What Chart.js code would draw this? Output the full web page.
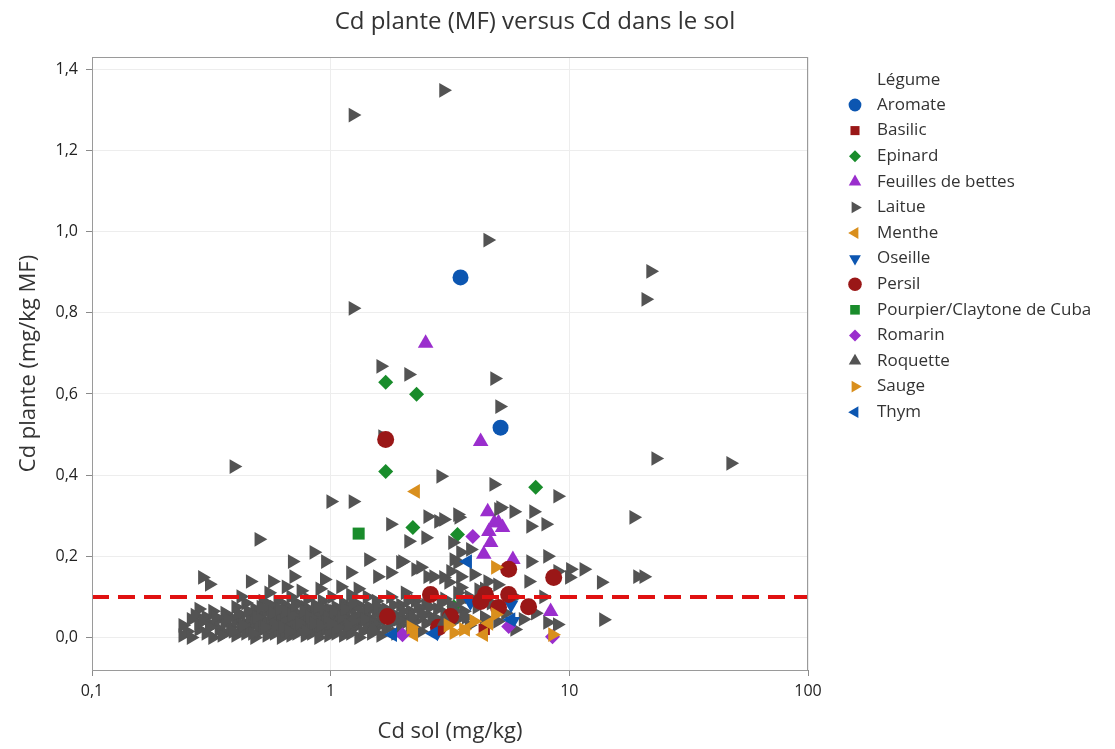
<!DOCTYPE html>
<html>
<head>
<meta charset="utf-8">
<title>Cd plante (MF) versus Cd dans le sol</title>
<script src="https://cdn.jsdelivr.net/npm/chart.js@4.4.0/dist/chart.umd.min.js"></script>
<style>
  html, body { margin: 0; padding: 0; background: #ffffff; }
  #wrap { width: 1115px; height: 749px; }
</style>
</head>
<body>
<div id="wrap"><canvas id="chart" width="1115" height="749"></canvas></div>
<script>
// axis ticks
const xTicks = [0.1, 1, 10, 100];
const xTickLabels = ['0,1', '1', '10', '100'];
const yTicks = [0, 0.2, 0.4, 0.6, 0.8, 1.0, 1.2, 1.4];
const yTickLabels = ['0,0', '0,2', '0,4', '0,6', '0,8', '1,0', '1,2', '1,4'];
const seuil = 0.1;

const legumes = ['Aromate', 'Basilic', 'Epinard', 'Feuilles de bettes', 'Laitue', 'Menthe', 'Oseille',
  'Persil', 'Pourpier/Claytone de Cuba', 'Romarin', 'Roquette', 'Sauge', 'Thym'];

// [Cd sol, Cd plante]
const aromate = [[3.5, 0.887], [5.15, 0.517]];
const basilic = [[4.4, 0.02]];
const epinard = [[1.70, 0.629], [2.29, 0.599], [1.70, 0.409], [7.23, 0.37], [2.21, 0.271], [3.4, 0.254], [3.28, 0.076]];
const feuilles = [[2.5, 0.725], [4.25, 0.483], [4.55, 0.31], [4.85, 0.283], [5.05, 0.283], [5.25, 0.271], [4.6, 0.261],
  [4.68, 0.234], [4.38, 0.205], [5.8, 0.192], [8.35, 0.064]];
const laitue = [
  [2.97, 1.348], [1.24, 1.287], [4.55, 0.979], [21.9, 0.902], [20.9, 0.833], [1.24, 0.811], [1.62, 0.668], [2.12, 0.648],
  [4.86, 0.638], [5.1, 0.569], [0.393, 0.421], [1.65, 0.495], [2.89, 0.397], [4.82, 0.377], [8.93, 0.348], [23.0, 0.441],
  [47.4, 0.429], [18.6, 0.296], [1.0, 0.335], [1.24, 0.335], [0.5, 0.242],
  [2.55, 0.298], [2.97, 0.291], [3.44, 0.296], [5.15, 0.32], [5.85, 0.31], [7.08, 0.31], [6.88, 0.274], [7.96, 0.279],
  [1.78, 0.279], [2.83, 0.286], [2.12, 0.237], [2.5, 0.246], [1.44, 0.192], [1.96, 0.185], [0.69, 0.187], [0.85, 0.21],
  [0.95, 0.187], [1.21, 0.16], [1.57, 0.15], [1.78, 0.16], [2.0, 0.187], [2.27, 0.168], [2.38, 0.173], [2.55, 0.15],
  [2.7, 0.15], [2.97, 0.148], [3.28, 0.192], [3.4, 0.185], [3.4, 0.303], [5.05, 0.316], [6.88, 0.187], [8.1, 0.2],
  [8.93, 0.163], [6.75, 0.138], [10.1, 0.168], [11.5, 0.168], [10.0, 0.148], [13.6, 0.136], [19.3, 0.15], [20.5, 0.15],
  [13.9, 0.044], [8.1, 0.037], [8.9, 0.032], [0.29, 0.148], [0.31, 0.131], [0.46, 0.138], [0.57, 0.138], [0.7, 0.15],
  [0.94, 0.143], [0.42, 0.101], [3.24, 0.234], [3.5, 0.21], [3.85, 0.217], [3.18, 0.163], [3.5, 0.15], [3.98, 0.155],
  [4.55, 0.138], [4.17, 0.118], [3.5, 0.123], [3.12, 0.136],
  [0.55, 0.11], [0.75, 0.115], [0.9, 0.12], [1.1, 0.125], [1.3, 0.12], [0.65, 0.125],
  [0.24, 0.03], [0.24, 0.005], [0.25, 0.015], [0.26, 0.045], [0.26, 0.0], [0.28, 0.07], [0.28, 0.02], [0.28, 0.035],
  [0.30, 0.01], [0.30, 0.05], [0.32, 0.03], [0.32, 0.065], [0.32, 0.0], [0.34, 0.02], [0.34, 0.045], [0.36, 0.01],
  [0.36, 0.035], [0.36, 0.06], [0.38, 0.025], [0.38, 0.05], [0.40, 0.005], [0.40, 0.04], [0.40, 0.075], [0.42, 0.02],
  [0.42, 0.055], [0.44, 0.01], [0.44, 0.035], [0.44, 0.085], [0.46, 0.025], [0.46, 0.05], [0.48, 0.0], [0.48, 0.04],
  [0.48, 0.07], [0.50, 0.015], [0.50, 0.03], [0.50, 0.06], [0.52, 0.02], [0.52, 0.045], [0.52, 0.09], [0.54, 0.005],
  [0.54, 0.035], [0.54, 0.065], [0.56, 0.025], [0.56, 0.05], [0.58, 0.01], [0.58, 0.04], [0.58, 0.075], [0.60, 0.02],
  [0.60, 0.055], [0.60, 0.09], [0.62, 0.0], [0.62, 0.035], [0.62, 0.06], [0.64, 0.015], [0.64, 0.045], [0.64, 0.08],
  [0.66, 0.025], [0.66, 0.05], [0.68, 0.005], [0.68, 0.035], [0.68, 0.07], [0.68, 0.1], [0.70, 0.02], [0.70, 0.045],
  [0.72, 0.01], [0.72, 0.03], [0.72, 0.06], [0.72, 0.085], [0.75, 0.02], [0.75, 0.05], [0.78, 0.005], [0.78, 0.04],
  [0.78, 0.075], [0.80, 0.025], [0.80, 0.055], [0.80, 0.095], [0.83, 0.01], [0.83, 0.035], [0.83, 0.065], [0.86, 0.02],
  [0.86, 0.05], [0.86, 0.08], [0.89, 0.0], [0.89, 0.03], [0.89, 0.06], [0.92, 0.015], [0.92, 0.045], [0.92, 0.09],
  [0.95, 0.025], [0.95, 0.055], [0.98, 0.005], [0.98, 0.035], [0.98, 0.07], [1.01, 0.02], [1.01, 0.05], [1.01, 0.1],
  [1.05, 0.01], [1.05, 0.04], [1.05, 0.075], [1.09, 0.025], [1.09, 0.06], [1.13, 0.005], [1.13, 0.035], [1.13, 0.085],
  [1.17, 0.02], [1.17, 0.05], [1.21, 0.01], [1.21, 0.04], [1.21, 0.07], [1.21, 0.105], [1.26, 0.025], [1.26, 0.055],
  [1.31, 0.0], [1.31, 0.035], [1.31, 0.08], [1.36, 0.015], [1.36, 0.05], [1.42, 0.03], [1.42, 0.065], [1.42, 0.1],
  [1.48, 0.01], [1.48, 0.045], [1.55, 0.025], [1.55, 0.06], [1.55, 0.09], [1.62, 0.005], [1.62, 0.04], [1.70, 0.02],
  [1.70, 0.07], [1.78, 0.035], [1.78, 0.1], [1.87, 0.01], [1.87, 0.055], [1.96, 0.03], [1.96, 0.08], [2.05, 0.045],
  [2.05, 0.11], [2.15, 0.02], [2.15, 0.065], [2.26, 0.04], [2.26, 0.09], [2.38, 0.06], [2.38, 0.015], [2.5, 0.035],
  [2.5, 0.08], [2.65, 0.05], [2.65, 0.1], [2.8, 0.045], [2.8, 0.07], [3.0, 0.06], [3.0, 0.03], [3.0, 0.095],
  [3.2, 0.08], [3.4, 0.045], [3.4, 0.11], [3.6, 0.065], [3.8, 0.1], [3.8, 0.03], [4.1, 0.075], [4.4, 0.05],
  [4.4, 0.12], [4.7, 0.085], [5.0, 0.04], [5.0, 0.13], [5.4, 0.06], [5.9, 0.1], [5.9, 0.02], [6.4, 0.045],
  [7.2, 0.06], [7.8, 0.1],
  [0.27, 0.055], [0.29, 0.04], [0.31, 0.025], [0.33, 0.05], [0.35, 0.005], [0.37, 0.045], [0.39, 0.015], [0.41, 0.06],
  [0.43, 0.03], [0.45, 0.065], [0.47, 0.01], [0.49, 0.05], [0.51, 0.075], [0.53, 0.025], [0.55, 0.08], [0.57, 0.06],
  [0.59, 0.03], [0.61, 0.07], [0.63, 0.025], [0.65, 0.065], [0.67, 0.015], [0.69, 0.055], [0.71, 0.08], [0.74, 0.035],
  [0.77, 0.065], [0.79, 0.015], [0.82, 0.05], [0.85, 0.035], [0.88, 0.075], [0.91, 0.03], [0.94, 0.07], [0.97, 0.05],
  [1.0, 0.035], [1.03, 0.065], [1.07, 0.025], [1.11, 0.05], [1.15, 0.07], [1.19, 0.03], [1.24, 0.085], [1.28, 0.045],
  [1.34, 0.065], [1.39, 0.045], [1.45, 0.075], [1.51, 0.035], [1.58, 0.075], [1.66, 0.055], [1.74, 0.05], [1.83, 0.08],
  [1.92, 0.045], [2.0, 0.065], [2.1, 0.09], [2.2, 0.05], [2.32, 0.075], [2.45, 0.055], [2.6, 0.075], [2.75, 0.025],
  [2.9, 0.085], [3.1, 0.05], [3.3, 0.065], [3.5, 0.09], [3.7, 0.05]
];
const menthe = [[2.27, 0.36], [4.38, 0.007], [2.23, 0.007], [3.68, 0.02], [4.6, 0.035]];
const oseille = [[5.7, 0.081], [3.85, 0.086], [2.8, 0.012], [5.8, 0.04]];
const persil = [[1.70, 0.488], [5.57, 0.168], [8.6, 0.148], [2.62, 0.106], [4.45, 0.106], [5.57, 0.106], [5.05, 0.074],
  [6.75, 0.076], [3.18, 0.052], [1.73, 0.052], [4.25, 0.089], [2.83, 0.025]];
const pourpier = [[1.31, 0.256]];
const romarin = [[3.94, 0.249], [2.0, 0.007], [5.57, 0.027], [8.5, 0.002]];
const roquette = [[3.0, 0.04], [1.5, 0.02]];
const sauge = [[4.9, 0.173], [8.5, 0.007], [2.17, 0.025], [3.28, 0.012], [3.6, 0.02], [3.98, 0.04], [4.9, 0.057], [3.1, 0.03]];
const thym = [[3.75, 0.187], [1.82, 0.007], [5.7, 0.044], [2.7, 0.01]];

const series = [aromate, basilic, epinard, feuilles, laitue, menthe, oseille, persil, pourpier, romarin, roquette, sauge, thym];

// marker look per group (Minitab-like symbols)
const blue = '#0c56b1', red = '#9a1717', green = '#198c2b', purple = '#9a2ecd', grey = '#535353', orange = '#d98f1d';
const markers = [
  { color: blue, style: 'circle', rot: 0, r: 8 },
  { color: red, style: 'rect', rot: 0, r: 8 },
  { color: green, style: 'rectRot', rot: 0, r: 7.5 },
  { color: purple, style: 'triangle', rot: 0, r: 9 },
  { color: grey, style: 'triangle', rot: 90, r: 8.5 },
  { color: orange, style: 'triangle', rot: -90, r: 8.5 },
  { color: blue, style: 'triangle', rot: 180, r: 8.5 },
  { color: red, style: 'circle', rot: 0, r: 8.5 },
  { color: green, style: 'rect', rot: 0, r: 8.5 },
  { color: purple, style: 'rectRot', rot: 0, r: 7.5 },
  { color: grey, style: 'triangle', rot: 0, r: 9 },
  { color: orange, style: 'triangle', rot: 90, r: 8.5 },
  { color: blue, style: 'triangle', rot: -90, r: 8.5 }
];

Chart.defaults.font.family = '"Open Sans", "Noto Sans", sans-serif';
Chart.defaults.color = '#333333';

const datasets = legumes.map((name, i) => ({
  type: 'scatter',
  label: name,
  data: series[i].map(p => ({ x: p[0], y: p[1] })),
  pointStyle: markers[i].style,
  pointRotation: markers[i].rot,
  pointRadius: markers[i].r,
  pointBackgroundColor: markers[i].color,
  pointBorderWidth: 0,
  order: 50 - i
}));

datasets.push({
  type: 'line',
  label: 'seuil',
  data: [{ x: xTicks[0], y: seuil }, { x: xTicks[xTicks.length - 1], y: seuil }],
  borderColor: '#e01111',
  borderWidth: 4,
  borderDash: [17, 9],
  pointRadius: 0,
  order: 0
});

// frame, title and the group legend
const decorations = {
  id: 'decorations',
  afterDraw(chart) {
    const ctx = chart.ctx;
    const a = chart.chartArea;
    ctx.save();
    ctx.strokeStyle = '#9a9a9a';
    ctx.lineWidth = 1;
    ctx.strokeRect(a.left + 0.5, a.top + 0.5, a.right - a.left - 1, a.bottom - a.top);

    ctx.fillStyle = '#333333';
    ctx.font = '24px "Open Sans", sans-serif';
    ctx.textAlign = 'center';
    ctx.textBaseline = 'middle';
    ctx.fillText('Cd plante (MF) versus Cd dans le sol', 535, 22);

    ctx.font = '17px "Open Sans", sans-serif';
    ctx.textAlign = 'left';
    ctx.fillText('Légume', 877, 80);
    legumes.forEach((name, i) => {
      const y = 105 + i * 25.6;
      const m = markers[i];
      ctx.fillStyle = m.color;
      Chart.helpers.drawPoint(ctx, { pointStyle: m.style, rotation: m.rot, radius: m.r * 0.8, borderWidth: 0 }, 855, y);
      ctx.fillStyle = '#333333';
      ctx.fillText(name, 877, y);
    });
    ctx.restore();
  }
};

new Chart(document.getElementById('chart'), {
  data: { datasets },
  options: {
    responsive: false,
    animation: false,
    events: [],
    layout: { padding: { top: 57, right: 307, bottom: 0, left: 0 } },
    plugins: {
      legend: { display: false },
      title: { display: false },
      tooltip: { enabled: false }
    },
    scales: {
      x: {
        type: 'logarithmic',
        position: 'bottom',
        min: 0.1,
        max: 100,
        afterBuildTicks: s => { s.ticks = xTicks.map(v => ({ value: v })); },
        afterFit: s => { s.height = 79; },
        ticks: {
          callback: (v, i) => xTickLabels[i],
          color: '#222222',
          font: { size: 16 },
          padding: 6,
          maxRotation: 0,
          autoSkip: false
        },
        grid: { color: '#ededed', tickColor: '#8a8a8a', tickLength: 6 },
        border: { display: false },
        title: { display: true, text: 'Cd sol (mg/kg)', color: '#333333', font: { size: 22 }, padding: { top: 4, bottom: 4 } }
      },
      y: {
        type: 'linear',
        position: 'left',
        min: -0.08,
        max: 1.43,
        afterBuildTicks: s => { s.ticks = yTicks.map(v => ({ value: v })); },
        afterFit: s => { s.width = 92; },
        ticks: {
          callback: (v, i) => yTickLabels[i],
          color: '#222222',
          font: { size: 16 },
          padding: 8
        },
        grid: { color: '#ededed', tickColor: '#8a8a8a', tickLength: 6 },
        border: { display: false },
        title: { display: true, text: 'Cd plante (mg/kg MF)', color: '#333333', font: { size: 22 }, padding: { top: 16, bottom: 4 } }
      }
    }
  },
  plugins: [decorations]
});
</script>
</body>
</html>
